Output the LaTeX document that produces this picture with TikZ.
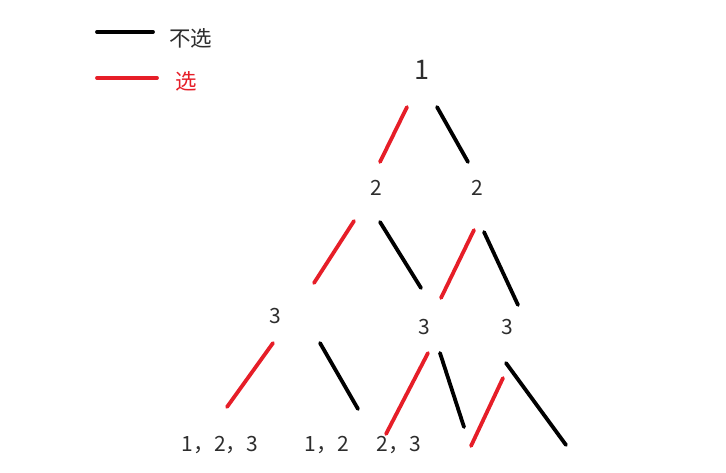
\documentclass[tikz,border=0pt]{standalone}
\usepackage{fontspec}
\setmainfont{Noto Sans CJK SC}
\usepackage{tikz}
\definecolor{myred}{RGB}{230,30,40}
\definecolor{mytext}{RGB}{45,45,45}
\tikzstyle{num} = [text=mytext, inner sep=0pt, font=\fontsize{21}{23}\selectfont]
\tikzstyle{root} = [num, font=\fontsize{27}{29}\selectfont]
\tikzstyle{redline} = [draw=myred, line width=3.8pt, line cap=round]
\tikzstyle{blackline} = [draw=black, line width=3.8pt, line cap=round]

\begin{document}
\begin{tikzpicture}[x=1pt,y=-1pt]
    \useasboundingbox (0,0) rectangle (726,473);
    % legend
    \coordinate (k1) at (97,32);
    \coordinate (k2) at (153,32);
    \coordinate (r1) at (97,78);
    \coordinate (r2) at (157,78);
    \draw[blackline] (k1) -- (k2);
    \draw[redline] (r1) -- (r2);
    \node[num, anchor=west, font=\fontsize{21.5}{23}\selectfont] (nolab) at (169,38) {不选};
    \node[num, anchor=west, text=myred, font=\fontsize{21.5}{23}\selectfont] (yeslab) at (175,81) {选};
    % tree labels
    \node[root] (one) at (422,70) {1};
    \node[num] (twoa) at (376,188) {2};
    \node[num] (twob) at (477,188) {2};
    \node[num] (threea) at (275,316) {3};
    \node[num] (threeb) at (424,327) {3};
    \node[num] (threec) at (507,327) {3};
    \node[num] (seta) at (220,445) {1，2，3};
    \node[num] (setb) at (327,445) {1，2};
    \node[num] (setc) at (399,445) {2，3};
    % strokes
    \coordinate (a1) at (407,107);  \coordinate (a2) at (380,162);
    \coordinate (b1) at (437,107);  \coordinate (b2) at (468,162);
    \coordinate (c1) at (354,221);  \coordinate (c2) at (314,283);
    \coordinate (d1) at (380,222);  \coordinate (d2) at (421,288);
    \coordinate (e1) at (474,230);  \coordinate (e2) at (441,298);
    \coordinate (f1) at (484,232);  \coordinate (f2) at (518,305);
    \coordinate (g1) at (273,343);  \coordinate (g2) at (227,407);
    \coordinate (h1) at (320,343);  \coordinate (h2) at (358,409);
    \coordinate (i1) at (428,353);  \coordinate (i2) at (386,434);
    \coordinate (j1) at (440,353);  \coordinate (j2) at (464,427);
    \coordinate (m1) at (503,378);  \coordinate (m2) at (471,446);
    \coordinate (n1) at (506,363);  \coordinate (n2) at (566,445);
    \draw[redline] (a1) -- (a2);
    \draw[blackline] (b1) -- (b2);
    \draw[redline] (c1) -- (c2);
    \draw[blackline] (d1) -- (d2);
    \draw[redline] (e1) -- (e2);
    \draw[blackline] (f1) -- (f2);
    \draw[redline] (g1) -- (g2);
    \draw[blackline] (h1) -- (h2);
    \draw[redline] (i1) -- (i2);
    \draw[blackline] (j1) -- (j2);
    \draw[redline] (m1) -- (m2);
    \draw[blackline] (n1) -- (n2);
\end{tikzpicture}
\end{document}
